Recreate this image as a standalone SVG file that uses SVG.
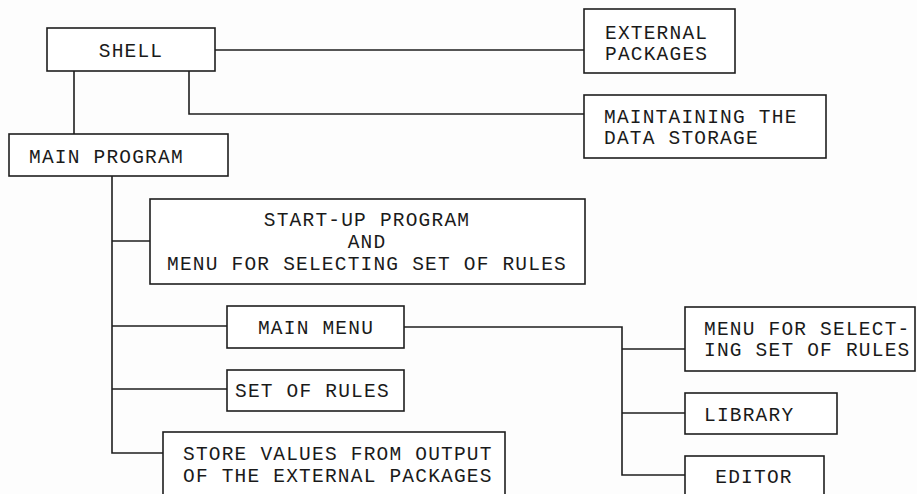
<svg xmlns="http://www.w3.org/2000/svg" width="917" height="494" viewBox="0 0 917 494">
<style>
rect{fill:#fff;stroke:#1e1e1e;stroke-width:1.6}
path{fill:none;stroke:#1e1e1e;stroke-width:1.6}
text{font-family:"Liberation Mono","Courier New",monospace;font-size:19.5px;letter-spacing:1.2px;fill:#1a1a1a}
.m{text-anchor:middle}
</style>
<rect x="0" y="0" width="917" height="494" style="fill:#fdfdfd;stroke:none"/>
<g id="connectors">
<path d="M215 50 H584"/>
<path d="M189 71 V114 H584"/>
<path d="M74 71 V134"/>
<path d="M112 176 V453 H163"/>
<path d="M112 241 H150"/>
<path d="M112 326 H227"/>
<path d="M112 389 H227"/>
<path d="M404 327 H622 V475 H685"/>
<path d="M622 349 H685"/>
<path d="M622 413 H685"/>
</g>
<g id="shell"><rect x="47" y="28" width="168" height="43"/><text class="m" x="131" y="57">SHELL</text></g>
<g id="external-packages"><rect x="584" y="9" width="151" height="64"/><text x="605" y="39">EXTERNAL</text><text x="605" y="60">PACKAGES</text></g>
<g id="maintaining"><rect x="584" y="95" width="242" height="63"/><text x="604" y="123">MAINTAINING THE</text><text x="604" y="144">DATA STORAGE</text></g>
<g id="main-program"><rect x="9" y="134" width="219" height="42"/><text x="29" y="163">MAIN PROGRAM</text></g>
<g id="startup"><rect x="150" y="199" width="435" height="85"/><text class="m" x="367" y="226">START-UP PROGRAM</text><text class="m" x="367" y="248">AND</text><text class="m" x="367" y="270">MENU FOR SELECTING SET OF RULES</text></g>
<g id="main-menu"><rect x="227" y="306" width="177" height="42"/><text class="m" x="316" y="334">MAIN MENU</text></g>
<g id="set-of-rules"><rect x="227" y="370" width="177" height="41"/><text x="235" y="397">SET OF RULES</text></g>
<g id="store-values"><rect x="163" y="432" width="342" height="80"/><text x="183" y="460">STORE VALUES FROM OUTPUT</text><text x="183" y="482">OF THE EXTERNAL PACKAGES</text></g>
<g id="menu-selecting"><rect x="685" y="307" width="230" height="64"/><text x="704" y="335">MENU FOR SELECT-</text><text x="704" y="356">ING SET OF RULES</text></g>
<g id="library"><rect x="685" y="393" width="152" height="41"/><text x="704" y="421">LIBRARY</text></g>
<g id="editor"><rect x="685" y="456" width="139" height="60"/><text class="m" x="754" y="483">EDITOR</text></g>
</svg>
